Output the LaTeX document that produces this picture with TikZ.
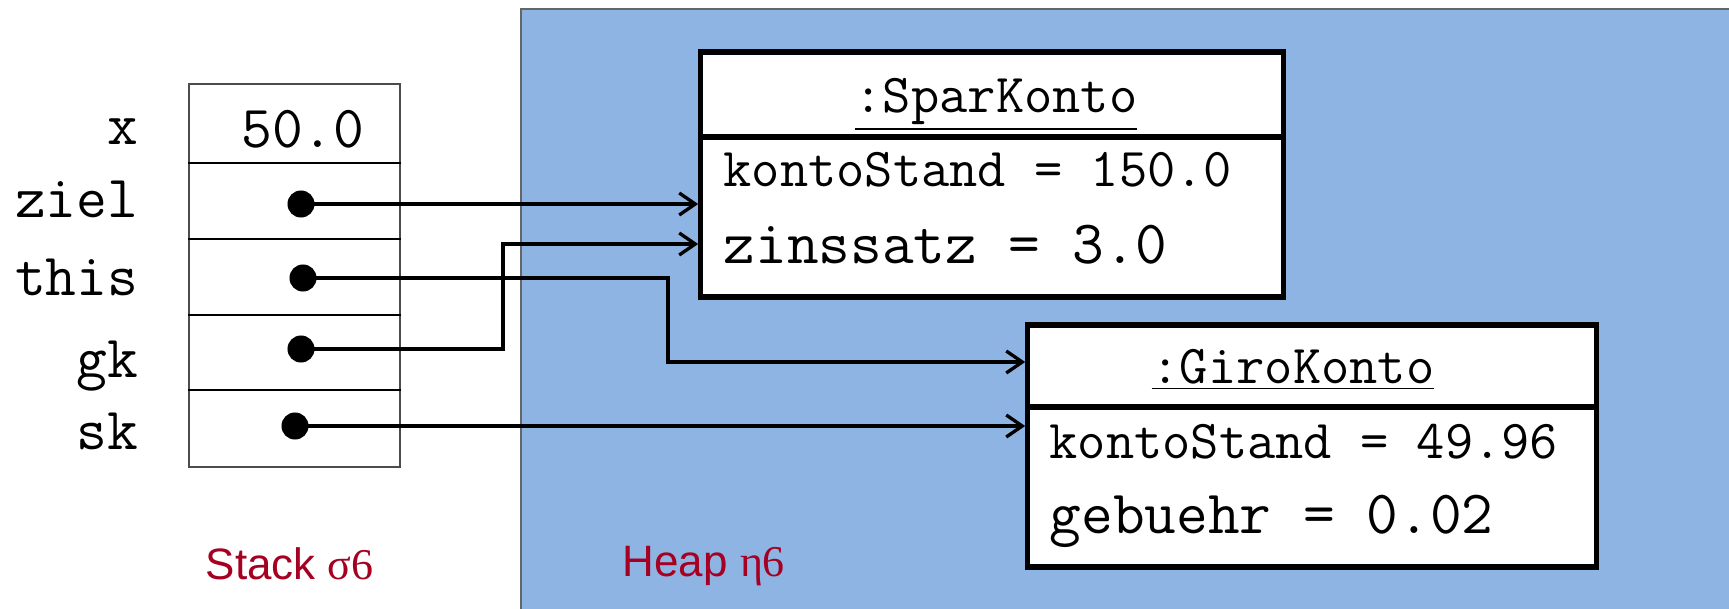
\documentclass[tikz,border=0pt]{standalone}
\usepackage{fontspec}
\setmainfont{Liberation Serif}
\setsansfont{Liberation Sans}
\usepackage{tikz}
\usetikzlibrary{arrows.meta}
\definecolor{heapblue}{HTML}{8EB4E3}
\definecolor{labelred}{HTML}{A50021}

\begin{document}
\begin{tikzpicture}
        [x=0.01cm, y=-0.01cm,
        kstyle/.style={rectangle, draw=black, line width=1.5pt, fill=white, inner sep=0pt},
        sstyle/.style={rectangle, draw=black!70, line width=0.6pt, inner sep=0pt, minimum width=2.11cm, minimum height=3.83cm},
        vstyle/.style={anchor=base east, inner sep=0pt, font=\ttfamily\fontsize{17}{20}\selectfont},
        hstyle/.style={anchor=base, inner sep=0pt, font=\ttfamily\fontsize{15.6}{18}\selectfont},
        astyle/.style={anchor=base west, inner sep=0pt, font=\ttfamily\fontsize{15.6}{18}\selectfont},
        bstyle/.style={anchor=base west, inner sep=0pt, font=\ttfamily\fontsize{17.5}{20}\selectfont},
        pstyle/.style={circle, fill=black, inner sep=0pt, minimum size=0.27cm},
        dstyle/.style={-{Straight Barb[length=0.16cm, width=0.22cm]}, line width=0.95pt},
        rstyle/.style={anchor=base west, inner sep=0pt, text=labelred, font=\sffamily\fontsize{12.5}{14}\selectfont}]

        \useasboundingbox (0,0) rectangle (1729,609);

        % heap
        \fill[heapblue] (521,9) rectangle (1729,609);
        \draw[black!60, line width=0.6pt] (1729,9) -- (521,9) -- (521,609);

        % stack
        \node[sstyle] (stack) at (294.5,275.5) {};
        \foreach \y in {163,239,315,390}
            \draw[line width=0.8pt] (stack.west |- 0,\y) -- (stack.east |- 0,\y);

        \node[vstyle] (xlbl)    at (139,144) {x};
        \node[vstyle] (ziellbl) at (139,217) {ziel};
        \node[vstyle] (thislbl) at (139,295) {this};
        \node[vstyle] (gklbl)   at (139,377) {gk};
        \node[vstyle] (sklbl)   at (139,449) {sk};
        \node[vstyle, anchor=base] (xval) at (303,147) {50.0};

        \node[pstyle] (zieldot) at (301,204) {};
        \node[pstyle] (thisdot) at (303,278) {};
        \node[pstyle] (gkdot)   at (301,349) {};
        \node[pstyle] (skdot)   at (295,426) {};

        % objects
        \node[kstyle, minimum width=5.82cm, minimum height=2.45cm] (spar) at (992,174.5) {};
        \draw[line width=1.5pt] (spar.west |- 0,137) -- (spar.east |- 0,137);
        \node[hstyle] (sparname)  at (996,112) {\underline{:SparKonto}};
        \node[astyle] (sparstand) at (723,186) {kontoStand = 150.0};
        \node[bstyle] (sparzins)  at (723,263) {zinssatz = 3.0};

        \node[kstyle, minimum width=5.68cm, minimum height=2.42cm] (giro) at (1312,446) {};
        \draw[line width=1.5pt] (giro.west |- 0,407) -- (giro.east |- 0,407);
        \node[hstyle] (gironame)  at (1293,383) {\underline{:GiroKonto}};
        \node[astyle] (girostand) at (1049,458) {kontoStand = 49.96};
        \node[bstyle] (girogeb)   at (1049,533) {gebuehr = 0.02};

        % references
        \coordinate (gkbend)   at (503,244);
        \coordinate (thisbend) at (668,362);
        \draw[dstyle] (zieldot.center) -- (zieldot -| spar.west);
        \draw[dstyle] (gkdot.center) -| (gkbend) -- (gkbend -| spar.west);
        \draw[dstyle] (thisdot.center) -| (thisbend) -- (thisbend -| giro.west);
        \draw[dstyle] (skdot.center) -- (skdot -| giro.west);

        \node[rstyle] (stacklbl) at (205,579) {Stack {\rmfamily σ6}};
        \node[rstyle] (heaplbl)  at (622,576) {Heap {\rmfamily η6}};
\end{tikzpicture}
\end{document}
